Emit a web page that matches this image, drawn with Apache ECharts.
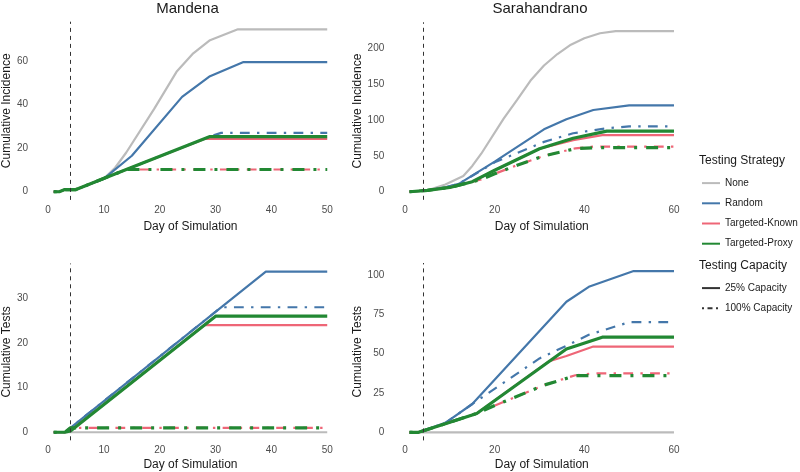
<!DOCTYPE html>
<html>
<head>
<meta charset="utf-8">
<script src="https://cdn.jsdelivr.net/npm/echarts@6/dist/echarts.min.js"></script>
<style>
    html, body { margin: 0; padding: 0; background: #fff; }
    #main { width: 800px; height: 472px; }
</style>
</head>
<body>
<div id="main"></div>
<script>
// ticks
var manDayTicks = [0, 10, 20, 30, 40, 50];
var sarDayTicks = [0, 20, 40, 60];
var manIncTicks = [0, 20, 40, 60];
var sarIncTicks = [0, 50, 100, 150, 200];
var manTestTicks = [0, 10, 20, 30];
var sarTestTicks = [0, 25, 50, 75, 100];
var interventionDay = 4;

var strategies = ['None', 'Random', 'Targeted-Known', 'Targeted-Proxy'];
var capacities = ['25% Capacity', '100% Capacity'];

// Mandena - cumulative incidence  [day, value]
var manIncNone = [[1,0],[2,0],[3,1],[5,1],[10,6],[12,11],[14,18],[19,38],[23,55],[26,63.5],[29,69.5],[34,74.5],[50,74.5]];
var manIncRandom25 = [[1,0],[2,0],[3,1],[5,1],[10,6],[15,16.5],[24,43.5],[29,53],[35,59.5],[50,59.5]];
var manIncRandom100 = [[1,0],[2,0],[3,1],[5,1],[14,10.2],[29,25.3],[31,27],[50,27]];
var manIncKnown25 = [[1,0],[2,0],[3,1],[5,1],[14,10.2],[28,24.2],[50,24.2]];
var manIncKnown100 = [[1,0],[2,0],[3,1],[5,1],[14,10.2],[50,10.2]];
var manIncProxy25 = [[1,0],[2,0],[3,1],[5,1],[14,10.2],[29,25.3],[50,25.3]];
var manIncProxy100 = [[1,0],[2,0],[3,1],[5,1],[14,10.2],[50,10.2]];

// Mandena - cumulative tests
var manTestNone = [[1,0],[50,0]];
var manTestRandom25 = [[1,0],[3,0],[4,1],[39,36],[50,36]];
var manTestRandom100 = [[1,0],[3,0],[4,1],[31,28],[50,28]];
var manTestKnown25 = [[1,0],[3,0],[4,0.3],[28,24],[50,24]];
var manTestKnown100 = [[1,0],[3,0],[4,1],[50,1]];
var manTestProxy25 = [[1,0],[3,0],[4,0.3],[30,26],[50,26]];
var manTestProxy100 = [[1,0],[3,0],[4,1],[50,1]];

// Sarahandrano - cumulative incidence
var sarIncNone = [[1,0],[5,2],[9,10],[13,22],[15,36],[17,53],[22,102],[25,128],[28,155],[31,176],[34,192],[37,205],[40,214],[43.5,221],[47,224],[60,224]];
var sarIncRandom25 = [[1,0],[5,2],[9,6],[12,11],[20,42],[31,87],[36,101],[42,114],[50,120.5],[60,120.5]];
var sarIncRandom100 = [[1,0],[5,2],[9,6],[12,11],[20,41],[31,69.5],[37.5,81.5],[45,88.5],[50,91],[60,91]];
var sarIncKnown25 = [[1,0],[5,2],[10,6],[15,14],[20,30],[25,45],[30,60],[37.5,72],[44,79],[60,79]];
var sarIncKnown100 = [[1,0],[5,2],[10,6],[15,14],[17,17],[20,25],[25,37],[31,50],[38,60.5],[42,63],[60,63]];
var sarIncProxy25 = [[1,0],[5,2],[10,6],[15,14],[20,30],[25,45],[30,60],[37.5,74.5],[45,84.5],[60,84.5]];
var sarIncProxy100 = [[1,0],[5,2],[10,6],[15,14],[17,17],[20,25],[25,37],[31,50],[38,60],[43,61.5],[60,61.5]];

// Sarahandrano - cumulative tests
var sarTestNone = [[1,0],[60,0]];
var sarTestRandom25 = [[1,0],[3,0],[9,6],[15,18],[36,83],[41,92.5],[51,102.5],[60,102.5]];
var sarTestRandom100 = [[1,0],[3,0],[9,6],[15,18],[30,47],[36,55],[41,62],[50,70],[60,70]];
var sarTestKnown25 = [[1,0],[3,0],[9,5.5],[16,12],[32,45],[36,48.5],[42,54.5],[60,54.5]];
var sarTestKnown100 = [[1,0],[3,0],[9,5.5],[16,12],[20,17],[31,30],[38,36.3],[42,37.5],[60,37.5]];
var sarTestProxy25 = [[1,0],[3,0],[9,5.5],[16,12],[36,53],[44,60.5],[60,60.5]];
var sarTestProxy100 = [[1,0],[3,0],[9,5.5],[16,12],[20,17],[31,30],[38,36],[60,36]];

var FONT = '"Liberation Sans", Arial, sans-serif';
var colors = {
    'None': '#BBBBBB',
    'Random': '#4477AA',
    'Targeted-Known': '#EE6677',
    'Targeted-Proxy': '#228833'
};

var myChart = echarts.init(document.getElementById('main'));

var makeLine = function(name, data, grid, dashed) {
    var thick = name == 'Targeted-Proxy';
    var width = thick ? 3.2 : 2.2;
    var dash = thick ? [3, 9, 12, 9] : [2.4, 7.3, 9.8, 7.3];
    return {
        name: name,
        type: 'line',
        xAxisIndex: grid,
        yAxisIndex: grid,
        data: data,
        symbol: 'none',
        silent: true,
        color: colors[name],
        lineStyle: {
            color: colors[name],
            width: width,
            type: dashed ? dash : 'solid'
        }
    };
}

var series = [];
var addPanel = function(grid, lines) {
    var firstIndex = series.length;
    lines.forEach(function(l) {
        series.push(makeLine(l[0], l[1], grid, false));
        if (l[2]) {
            series.push(makeLine(l[0], l[2], grid, true));
        }
    });
    // dashed vertical line at the intervention day, hung on the first line of the panel
    series[firstIndex].markLine = {
        silent: true,
        symbol: 'none',
        label: { show: false },
        lineStyle: { type: [4, 4], color: '#333', width: 1 },
        data: [{ xAxis: interventionDay }]
    };
}

addPanel(0, [
    ['None', manIncNone, null],
    ['Random', manIncRandom25, manIncRandom100],
    ['Targeted-Known', manIncKnown25, manIncKnown100],
    ['Targeted-Proxy', manIncProxy25, manIncProxy100]
]);
addPanel(1, [
    ['None', sarIncNone, null],
    ['Random', sarIncRandom25, sarIncRandom100],
    ['Targeted-Known', sarIncKnown25, sarIncKnown100],
    ['Targeted-Proxy', sarIncProxy25, sarIncProxy100]
]);
addPanel(2, [
    ['None', manTestNone, null],
    ['Random', manTestRandom25, manTestRandom100],
    ['Targeted-Known', manTestKnown25, manTestKnown100],
    ['Targeted-Proxy', manTestProxy25, manTestProxy100]
]);
addPanel(3, [
    ['None', sarTestNone, null],
    ['Random', sarTestRandom25, sarTestRandom100],
    ['Targeted-Known', sarTestKnown25, sarTestKnown100],
    ['Targeted-Proxy', sarTestProxy25, sarTestProxy100]
]);

// empty series only for the linetype legend
series.push({
    name: capacities[0], type: 'line', data: [], symbol: 'none', color: '#333',
    lineStyle: { color: '#333', width: 1.6, type: 'solid' }
});
series.push({
    name: capacities[1], type: 'line', data: [], symbol: 'none', color: '#333',
    lineStyle: { color: '#333', width: 1.6, type: [2, 3.5, 5, 3.5] }
});

var xAxis = function(grid, min, max, ticks, gap) {
    return {
        gridIndex: grid,
        type: 'value',
        min: min,
        max: max,
        axisLine: { show: false, onZero: false },
        axisTick: { show: false },
        splitLine: { show: false },
        axisLabel: { customValues: ticks, color: '#4d4d4d', fontSize: 10, margin: 5, fontFamily: FONT },
        name: 'Day of Simulation',
        nameLocation: 'middle',
        nameGap: gap,
        nameTextStyle: { fontSize: 12, color: '#1a1a1a', fontFamily: FONT }
    };
}

var yAxis = function(grid, min, max, ticks, name, gap) {
    return {
        gridIndex: grid,
        type: 'value',
        min: min,
        max: max,
        axisLine: { show: false, onZero: false },
        axisTick: { show: false },
        splitLine: { show: false },
        axisLabel: { customValues: ticks, color: '#4d4d4d', fontSize: 10, margin: 12, fontFamily: FONT },
        name: name,
        nameLocation: 'middle',
        nameGap: gap,
        nameTextStyle: { fontSize: 12, color: '#1a1a1a', fontFamily: FONT }
    };
}

var legendBase = {
    orient: 'vertical',
    left: 701,
    padding: 0,
    itemWidth: 18,
    itemHeight: 14,
    itemGap: 9,
    selectedMode: false,
    itemStyle: { opacity: 0 },
    textStyle: { fontSize: 10, color: '#1a1a1a', fontFamily: FONT }
};

var option = {
    animation: false,
    textStyle: { fontFamily: FONT },
    grid: [
        { left: 39.6, top: 21.7, width: 301.3, height: 178.2 },
        { left: 396.3, top: 22.3, width: 290.9, height: 177.5 },
        { left: 39.6, top: 263.5, width: 301.3, height: 176.8 },
        { left: 396.3, top: 263, width: 290.9, height: 177.4 }
    ],
    xAxis: [
        xAxis(0, -1.45, 52.45, manDayTicks, 21),
        xAxis(1, -1.95, 62.95, sarDayTicks, 21),
        xAxis(2, -1.45, 52.45, manDayTicks, 18),
        xAxis(3, -1.95, 62.95, sarDayTicks, 18)
    ],
    yAxis: [
        yAxis(0, -3.75, 78, manIncTicks, 'Cumulative Incidence', 27),
        yAxis(1, -11.25, 236.25, sarIncTicks, 'Cumulative Incidence', 32),
        yAxis(2, -1.8, 37.8, manTestTicks, 'Cumulative Tests', 27),
        yAxis(3, -5.125, 107.625, sarTestTicks, 'Cumulative Tests', 32)
    ],
    legend: [
        Object.assign({}, legendBase, { top: 177.5, data: strategies }),
        Object.assign({}, legendBase, { top: 282.5, data: capacities })
    ],
    graphic: [
        { type: 'text', x: 187.5, y: 9, style: { text: 'Mandena', font: '15px ' + FONT, fill: '#1a1a1a', align: 'center', verticalAlign: 'middle' } },
        { type: 'text', x: 540, y: 9, style: { text: 'Sarahandrano', font: '15px ' + FONT, fill: '#1a1a1a', align: 'center', verticalAlign: 'middle' } },
        { type: 'text', x: 699, y: 161, style: { text: 'Testing Strategy', font: '12px ' + FONT, fill: '#1a1a1a', align: 'left', verticalAlign: 'middle' } },
        { type: 'text', x: 699, y: 266, style: { text: 'Testing Capacity', font: '12px ' + FONT, fill: '#1a1a1a', align: 'left', verticalAlign: 'middle' } }
    ],
    series: series
};

myChart.setOption(option);
</script>
</body>
</html>
